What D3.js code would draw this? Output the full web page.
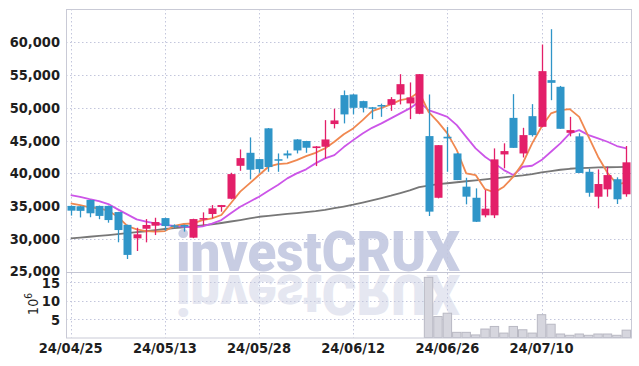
<!DOCTYPE html>
<html>
<head>
<meta charset="utf-8">
<script src="https://cdn.jsdelivr.net/npm/d3@7"></script>
<style>
  html, body { margin: 0; padding: 0; background: #fff; }
  .chart text { font-family: "Liberation Sans Narrow", "DejaVu Sans Condensed", sans-serif; }
  .chart .watermark text { font-family: Roboto, "DejaVu Sans", sans-serif; font-weight: 900; font-size: 55px; }
</style>
</head>
<body>
<div class="chart"></div>
<script>

// trading days (yy/mm/dd)
const dates = [
  "24/04/25","24/04/26","24/04/29","24/04/30","24/05/02","24/05/03","24/05/07","24/05/08","24/05/09","24/05/10",
  "24/05/13","24/05/14","24/05/16","24/05/17","24/05/20","24/05/21","24/05/22","24/05/23","24/05/24","24/05/27",
  "24/05/28","24/05/29","24/05/30","24/05/31","24/06/03","24/06/04","24/06/05","24/06/07","24/06/10","24/06/11",
  "24/06/12","24/06/13","24/06/14","24/06/17","24/06/18","24/06/19","24/06/20","24/06/21","24/06/24","24/06/25",
  "24/06/26","24/06/27","24/06/28","24/07/01","24/07/02","24/07/03","24/07/04","24/07/05","24/07/08","24/07/09",
  "24/07/10","24/07/11","24/07/12","24/07/15","24/07/16","24/07/17","24/07/18","24/07/19","24/07/22","24/07/23"
];

// prices
const opens = [
  35050,35000,35950,35050,35050,34120,32170,30120,31580,32040,
  33200,32100,32150,30220,32970,33820,34880,36140,41150,43130,
  42170,46850,42150,43030,45160,44920,43850,44050,47500,51900,
  52000,50990,50050,50400,50430,52010,50640,49060,45670,36290,
  45570,43030,37980,36290,33620,33620,42880,48440,43030,48700,
  47080,54180,53170,46170,45630,40240,36450,37570,39110,36820
];
const highs = [
  35100,35050,36000,35100,35100,34150,32200,31730,33050,33250,
  33250,32250,32200,33100,34070,35180,35200,40090,43640,45470,
  42200,46900,43030,43490,45200,44950,44150,48100,49830,52610,
  52050,51050,50100,50600,51600,55090,53830,55100,52000,44300,
  47040,43100,39330,37720,37460,43800,44570,52050,46930,50530,
  59600,61930,53300,48600,46100,40700,40610,41000,39400,44160
];
const lows = [
  33580,33300,33330,33030,32500,29520,26980,28190,29510,30620,
  31280,31700,31140,30150,32100,33160,34170,36050,40390,39090,
  40090,40240,40240,42270,43030,43130,41110,42270,46840,47600,
  48970,49270,48250,48600,49510,50490,48250,49000,33520,36200,
  40240,38980,35290,32600,33310,33200,40770,43880,42420,45600,
  47000,51130,46780,45630,40060,36450,34680,36450,35340,36450
];
const closes = [
  34330,34300,33930,33530,32900,31380,27600,30730,32150,32600,
  31990,31950,31900,33050,33200,34680,35180,39890,42320,40550,
  40650,40960,42000,42730,43490,43900,44100,45160,48050,48970,
  49970,49970,49950,50250,51290,53570,51560,55090,34180,44290,
  45320,38980,36460,32640,34630,42130,43390,43880,45820,45820,
  55550,53770,46780,46580,40060,37050,38380,39740,36060,41680
];

// moving averages
const maShort = [
  35450,35180,34830,34680,34320,33410,32000,31490,31230,31130,
  31230,32000,32300,32400,32900,33160,33670,35450,37220,38480,
  39750,41010,41420,41520,42020,42630,43130,43800,44810,45950,
  46840,48100,49470,49970,50490,51140,51390,52400,49360,47840,
  46080,43540,40000,39750,37600,37110,37970,39490,41520,44560,
  47100,49120,49620,49770,48600,45560,42530,40090,38370,38580
];
const maMid = [
  36690,36440,36090,35790,35330,34530,33770,33010,32650,32400,
  32150,32000,31890,31790,31950,32350,32900,33920,34930,35690,
  36450,37360,38220,39240,40000,40610,41520,42280,42780,44000,
  45060,46080,46930,47600,48360,49120,49880,50880,49620,49120,
  48600,47340,45560,43800,42530,41520,40500,39750,41010,41160,
  42020,43290,44560,46080,46580,45820,45320,44810,44160,43800
];
const maLong = [
  30100,30230,30360,30490,30620,30760,30900,31050,31200,31370,
  31540,31670,31800,31940,32090,32250,32450,32680,32900,33150,
  33400,33550,33700,33830,33950,34100,34250,34450,34700,34950,
  35230,35550,35900,36250,36600,37000,37400,37900,38150,38350,
  38500,38650,38800,38950,39100,39250,39400,39550,39700,39900,
  40150,40350,40550,40700,40800,40850,40900,40930,40960,41000
];

// volume (10^6 shares), missing before 24/06/24
const volumes = [
  null,null,null,null,null,null,null,null,null,null,
  null,null,null,null,null,null,null,null,null,null,
  null,null,null,null,null,null,null,null,null,null,
  null,null,null,null,null,null,null,null,16.35,5.7,
  6.6,1.4,1.4,0.7,2.3,3.0,1.2,3.0,2.1,1.2,
  6.2,3.6,0.95,0.6,0.95,0.6,0.95,0.95,0.6,2.0
];

// ticks
const priceTicks = [25000,30000,35000,40000,45000,50000,55000,60000];
const volumeTicks = [5,10,15];
const dateTicks = ["24/04/25","24/05/13","24/05/28","24/06/12","24/06/26","24/07/10"];


// svg container size
const width = 639,
      height = 366;

const plotLeft = 66, plotRight = 631,
      plotTop = 9, plotSplit = 272, plotBottom = 337.5;

const upColor = "#e31f69",
      downColor = "#2f95c8",
      gridColor = "#c3c6dc";

let svg = d3.select(".chart")
            .append("svg")
            .attr("width", width)
            .attr("height", height);

// scales
const x = d3.scaleBand()
            .domain(d3.range(dates.length))
            .range([plotLeft, plotRight])
            .padding(0);
const cx = i => x(i) + x.bandwidth() / 2;

const y = d3.scaleLinear()
            .domain([25000, 65000])
            .range([plotSplit, plotTop]);

const yv = d3.scaleLinear()
             .domain([0, 17.8])
             .range([plotBottom, plotSplit]);

// watermark (behind everything) + its reflection
const mark = svg.append("g").attr("class", "watermark");

mark.selectAll("text")
    .data([
      {fill: "#c8cde3", t: ""},
      {fill: "#e5e7f1", t: `translate(0, ${2 * plotSplit + 2}) scale(1,-1)`}
    ])
    .enter().append("text")
      .attr("transform", d => d.t)
      .attr("x", 176).attr("y", plotSplit - 1)
      .attr("textLength", 284).attr("lengthAdjust", "spacingAndGlyphs")
      .attr("fill", d => d.fill)
      .text("investCRUX");

// grid lines
const grid = svg.append("g").attr("class", "grid")
                .attr("stroke", gridColor)
                .attr("stroke-dasharray", "1.5,2.5");

grid.selectAll(".hp")
    .data(priceTicks.filter(d => d > 25000))
    .enter().append("line")
      .attr("x1", plotLeft).attr("x2", plotRight)
      .attr("y1", d => Math.round(y(d)) + 0.5)
      .attr("y2", d => Math.round(y(d)) + 0.5);

grid.selectAll(".hv")
    .data(volumeTicks)
    .enter().append("line")
      .attr("x1", plotLeft).attr("x2", plotRight)
      .attr("y1", d => Math.round(yv(d)) + 0.5)
      .attr("y2", d => Math.round(yv(d)) + 0.5);

grid.selectAll(".vx")
    .data(dateTicks)
    .enter().append("line")
      .attr("x1", d => Math.round(cx(dates.indexOf(d))) + 0.5)
      .attr("x2", d => Math.round(cx(dates.indexOf(d))) + 0.5)
      .attr("y1", plotTop).attr("y2", plotBottom);

// volume bars
svg.append("g")
   .selectAll("rect")
   .data(volumes.map((v, i) => ({v, i})).filter(d => d.v != null))
   .enter().append("rect")
     .attr("x", d => x(d.i) + 0.5)
     .attr("width", x.bandwidth() - 1)
     .attr("y", d => yv(d.v))
     .attr("height", d => yv(0) - yv(d.v))
     .attr("fill", "#d6d6de")
     .attr("stroke", "#b9b9c3")
     .attr("stroke-width", 1);

// moving averages
const line = d3.line()
               .x((d, i) => cx(i))
               .y(d => y(d));

const maLines = [
  {data: maLong, color: "#777777"},
  {data: maMid, color: "#cc55e8"},
  {data: maShort, color: "#f08850"}
];

svg.append("g")
   .selectAll("path")
   .data(maLines)
   .enter().append("path")
     .attr("d", d => line(d.data))
     .attr("fill", "none")
     .attr("stroke", d => d.color)
     .attr("stroke-width", 1.8)
     .attr("stroke-linejoin", "round");

// candles
const candles = svg.append("g")
                   .selectAll("g")
                   .data(dates.map((d, i) => i))
                   .enter().append("g")
                   .attr("fill", i => closes[i] >= opens[i] ? upColor : downColor)
                   .attr("stroke", i => closes[i] >= opens[i] ? upColor : downColor);

candles.append("line")
       .attr("x1", i => Math.round(cx(i)) + 0.5)
       .attr("x2", i => Math.round(cx(i)) + 0.5)
       .attr("y1", i => y(highs[i]))
       .attr("y2", i => y(lows[i]))
       .attr("stroke-width", 1.3);

candles.append("rect")
       .attr("x", i => Math.round(cx(i)) - 3.5)
       .attr("width", 8)
       .attr("y", i => y(Math.max(opens[i], closes[i])))
       .attr("height", i => Math.max(1.5, Math.abs(y(opens[i]) - y(closes[i]))))
       .attr("stroke", "none");

// frame
svg.append("rect")
   .attr("x", plotLeft + 0.5).attr("y", plotTop + 0.5)
   .attr("width", plotRight - plotLeft).attr("height", plotBottom - plotTop)
   .attr("fill", "none")
   .attr("stroke", "#c9cad6");

svg.append("line")
   .attr("x1", plotLeft).attr("x2", plotRight)
   .attr("y1", plotSplit + 0.5).attr("y2", plotSplit + 0.5)
   .attr("stroke", "#c4c5d2");

// axes labels
const labels = svg.append("g")
                  .attr("fill", "#1e1e1e")
                  .style("font-size", "14.5px")
                  .style("font-weight", "bold");

labels.selectAll(".py")
      .data(priceTicks)
      .enter().append("text")
        .attr("x", 60)
        .attr("y", d => y(d) + (d === 25000 ? 3.5 : 5))
        .attr("text-anchor", "end")
        .text(d => d3.format(",")(d));

labels.selectAll(".vy")
      .data(volumeTicks)
      .enter().append("text")
        .attr("x", 60)
        .attr("y", d => yv(d) + 5.5)
        .attr("text-anchor", "end")
        .text(d => d);

labels.selectAll(".dx")
      .data(dateTicks)
      .enter().append("text")
        .attr("x", d => cx(dates.indexOf(d)))
        .attr("y", 353)
        .attr("text-anchor", "middle")
        .text(d => d);

// volume unit 10^6
const unit = labels.append("text")
                   .attr("transform", "translate(38, 304) rotate(-90)")
                   .attr("text-anchor", "middle")
                   .style("font-weight", "normal")
                   .style("font-size", "14px");
unit.append("tspan").text("10");
unit.append("tspan").attr("dy", -6).style("font-size", "10px").text("6");

</script>
</body>
</html>
